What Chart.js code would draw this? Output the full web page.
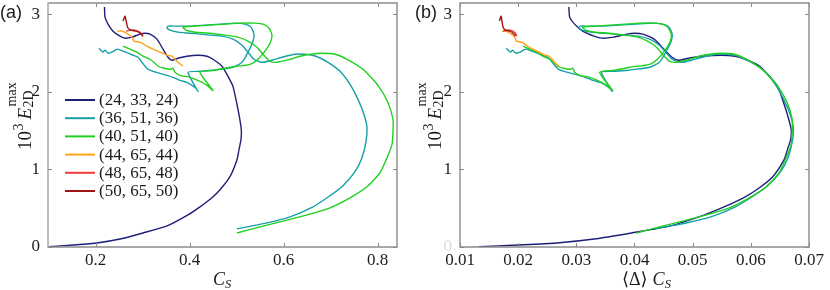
<!DOCTYPE html>
<html>
<head>
<meta charset="utf-8">
<script src="https://cdn.jsdelivr.net/npm/chart.js@4.4.1/dist/chart.umd.min.js"></script>
<style>
  html, body { margin: 0; padding: 0; background: #ffffff; }
  #wrap { position: relative; width: 830px; height: 290px; }
  canvas { position: absolute; top: 0; }
</style>
</head>
<body>
<div id="wrap">
  <canvas id="chartA" width="415" height="290" style="left:0px"></canvas>
  <canvas id="chartB" width="415" height="290" style="left:415px"></canvas>
</div>
<script>
// ---------------- DATA ----------------
const seriesLabels = ['(24, 33, 24)', '(36, 51, 36)', '(40, 51, 40)', '(44, 65, 44)', '(48, 65, 48)', '(50, 65, 50)'];
const seriesColors = ['#1f1f7a', '#14a0a6', '#1fd01f', '#ffa31a', '#f23b3b', '#a11414'];
// mean filter width <Delta> per grid (panel b abscissa = <Delta> * C_S)
const meanDelta = [0.1313, 0.0866, 0.0806, 0.0700, 0.0658, 0.0650];

// [C_S, 10^3 E_2D^max]
const grid24 = [[0.2187,3.092],[0.2198,2.962],[0.2262,2.872],[0.2368,2.781],[0.2517,2.717],[0.2623,2.691],[0.2772,2.704],[0.2943,2.743],[0.3049,2.755],[0.3155,2.743],[0.3304,2.678],[0.3432,2.549],[0.3538,2.445],[0.3623,2.406],[0.3751,2.432],[0.3943,2.458],[0.4177,2.471],[0.4368,2.458],[0.4496,2.419],[0.4687,2.329],[0.4815,2.199],[0.4921,2.070],[0.5028,1.772],[0.5091,1.552],[0.5100,1.475],[0.5091,1.384],[0.5049,1.255],[0.5006,1.125],[0.4857,0.906],[0.4645,0.737],[0.4474,0.634],[0.4219,0.517],[0.3964,0.414],[0.3517,0.272],[0.3006,0.181],[0.2517,0.103],[0.2028,0.052],[0.1517,0.026],[0.1006,0.004]];
const grid36 = [[0.2070,2.561],[0.2155,2.510],[0.2198,2.536],[0.2262,2.497],[0.2347,2.510],[0.2411,2.536],[0.2474,2.549],[0.2581,2.523],[0.2687,2.497],[0.2794,2.471],[0.2900,2.445],[0.2985,2.380],[0.3049,2.329],[0.3113,2.290],[0.3219,2.264],[0.3368,2.238],[0.3517,2.212],[0.3645,2.186],[0.3794,2.147],[0.3943,2.122],[0.4049,2.083],[0.4134,2.044],[0.4177,2.005],[0.3964,2.251],[0.4219,2.264],[0.4496,2.277],[0.4645,2.290],[0.4921,2.316],[0.5113,2.380],[0.5240,2.510],[0.5347,2.652],[0.5368,2.743],[0.5304,2.833],[0.5177,2.872],[0.4964,2.885],[0.4645,2.872],[0.4326,2.859],[0.4006,2.846],[0.3687,2.846],[0.3538,2.846],[0.3517,2.820],[0.3581,2.794],[0.3751,2.768],[0.4006,2.755],[0.4219,2.743],[0.4432,2.730],[0.4687,2.717],[0.4921,2.678],[0.5113,2.600],[0.5240,2.510],[0.5368,2.419],[0.5538,2.380],[0.5751,2.406],[0.5964,2.445],[0.6240,2.484],[0.6453,2.484],[0.6687,2.458],[0.6943,2.380],[0.7198,2.264],[0.7411,2.096],[0.7581,1.902],[0.7709,1.708],[0.7772,1.539],[0.7751,1.358],[0.7666,1.151],[0.7517,0.970],[0.7262,0.789],[0.6985,0.660],[0.6623,0.517],[0.6134,0.388],[0.5645,0.310],[0.5219,0.259],[0.5006,0.233]];
const grid40 = [[0.2581,2.587],[0.2730,2.549],[0.2879,2.510],[0.3006,2.458],[0.3155,2.419],[0.3262,2.367],[0.3326,2.329],[0.3453,2.303],[0.3581,2.290],[0.3645,2.303],[0.3687,2.251],[0.3794,2.212],[0.4006,2.186],[0.4219,2.135],[0.4368,2.083],[0.4496,2.018],[0.4219,2.251],[0.4538,2.277],[0.4857,2.316],[0.5283,2.354],[0.5453,2.419],[0.5602,2.523],[0.5709,2.626],[0.5751,2.730],[0.5687,2.820],[0.5560,2.872],[0.5389,2.885],[0.5070,2.885],[0.4751,2.872],[0.4432,2.859],[0.4113,2.846],[0.3857,2.833],[0.3921,2.794],[0.4113,2.768],[0.4432,2.755],[0.4751,2.730],[0.5028,2.704],[0.5240,2.652],[0.5432,2.574],[0.5560,2.484],[0.5709,2.393],[0.5857,2.380],[0.6134,2.419],[0.6347,2.458],[0.6560,2.484],[0.6815,2.497],[0.7091,2.484],[0.7347,2.419],[0.7687,2.290],[0.8006,2.083],[0.8219,1.863],[0.8326,1.643],[0.8326,1.488],[0.8304,1.320],[0.8198,1.151],[0.8049,0.957],[0.7772,0.776],[0.7411,0.634],[0.6985,0.505],[0.6496,0.414],[0.5921,0.323],[0.5496,0.259],[0.5006,0.181]];
const grid44 = [[0.2453,2.781],[0.2560,2.781],[0.2687,2.743],[0.2772,2.704],[0.2815,2.652],[0.2943,2.639],[0.3091,2.587],[0.3219,2.549],[0.3368,2.510],[0.3517,2.471],[0.3623,2.458],[0.3687,2.419],[0.3751,2.380],[0.3857,2.329]];
const grid48 = [[0.2645,2.781],[0.2751,2.794],[0.2836,2.794],[0.2900,2.781],[0.2964,2.755],[0.3006,2.717]];
const grid50 = [[0.2581,2.911],[0.2623,2.975],[0.2645,2.924],[0.2666,2.859],[0.2687,2.820],[0.2751,2.794],[0.2857,2.781],[0.2943,2.755],[0.3006,2.717]];
const allSeries = [grid24, grid36, grid40, grid44, grid48, grid50];

const yTickValues = [0, 1, 2, 3];
const yTickLabels = ['0', '1', '2', '3'];
const xTickValuesA = [0.2, 0.4, 0.6, 0.8];
const xTickLabelsA = ['0.2', '0.4', '0.6', '0.8'];
const xTickValuesB = [0.01, 0.02, 0.03, 0.04, 0.05, 0.06, 0.07];
const xTickLabelsB = ['0.01', '0.02', '0.03', '0.04', '0.05', '0.06', '0.07'];

// ---------------- STYLE ----------------
const TEXT = '#1c1c1c';
const SERIF = '"Liberation Serif", "DejaVu Serif", serif';

function drawYTitle(ctx, bx, by) {
  ctx.save();
  ctx.translate(bx, by);
  ctx.rotate(-Math.PI / 2);
  ctx.fillStyle = TEXT;
  ctx.textAlign = 'left';
  ctx.textBaseline = 'alphabetic';
  let p = 0;
  ctx.font = '19px ' + SERIF;
  ctx.fillText('10', p, 0); p += ctx.measureText('10').width;
  ctx.font = '14px ' + SERIF;
  ctx.fillText('3', p + 0.5, -8); p += ctx.measureText('3').width + 4.5;
  ctx.font = 'italic 19px ' + SERIF;
  ctx.fillText('E', p, 0); p += ctx.measureText('E').width + 1.5;
  ctx.font = '14px ' + SERIF;
  ctx.fillText('max', p, -15);
  ctx.fillText('2D', p - 1, 2);
  ctx.restore();
}

function drawCS(ctx, x, y) {
  ctx.save();
  ctx.fillStyle = TEXT;
  ctx.textAlign = 'left';
  ctx.textBaseline = 'alphabetic';
  ctx.font = 'italic 18px ' + SERIF;
  ctx.fillText('C', x, y);
  const w = ctx.measureText('C').width;
  ctx.font = 'italic 12.5px ' + SERIF;
  ctx.fillText('S', x + w, y + 3);
  ctx.restore();
}

function makeDecor(opts) {
  return {
    id: 'decor',
    afterDraw(chart) {
      const { ctx, chartArea: ca, scales } = chart;
      const xs = scales.x, ys = scales.y;
      ctx.save();
      // frame
      ctx.lineWidth = 1.4;
      ctx.strokeStyle = '#8c8c8c';
      ctx.beginPath();
      ctx.moveTo(ca.left, ca.top); ctx.lineTo(ca.right, ca.top);
      ctx.lineTo(ca.right, ca.bottom); ctx.lineTo(ca.left, ca.bottom);
      ctx.stroke();
      ctx.strokeStyle = opts.leftColor;
      ctx.lineWidth = opts.leftWidth;
      ctx.beginPath();
      ctx.moveTo(ca.left, ca.top - 0.7); ctx.lineTo(ca.left, ca.bottom + 0.7);
      ctx.stroke();
      // inward ticks on all four sides
      ctx.strokeStyle = '#8c8c8c';
      ctx.lineWidth = 1;
      ctx.beginPath();
      xs.ticks.forEach(t => {
        const px = Math.round(xs.getPixelForValue(t.value)) + 0.5;
        ctx.moveTo(px, ca.bottom); ctx.lineTo(px, ca.bottom - 4);
        ctx.moveTo(px, ca.top); ctx.lineTo(px, ca.top + 4);
      });
      ys.ticks.forEach(t => {
        const py = Math.round(ys.getPixelForValue(t.value)) + 0.5;
        ctx.moveTo(ca.left, py); ctx.lineTo(ca.left + 4, py);
        ctx.moveTo(ca.right, py); ctx.lineTo(ca.right - 4, py);
      });
      ctx.stroke();
      // panel label
      ctx.fillStyle = TEXT;
      ctx.font = '18px "Liberation Sans", Arial, sans-serif';
      ctx.textAlign = 'left';
      ctx.textBaseline = 'alphabetic';
      ctx.fillText(opts.panel, 0, 18);
      // y title
      drawYTitle(ctx, opts.yTitleX, 150);
      // x title
      if (opts.deltaTitle) {
        ctx.font = '18px ' + SERIF;
        ctx.fillText('\u27E8\u0394\u27E9', opts.xTitleX, 285);
        const w = ctx.measureText('\u27E8\u0394\u27E9').width;
        drawCS(ctx, opts.xTitleX + w + 5, 285);
      } else {
        drawCS(ctx, opts.xTitleX, 285);
      }
      // legend
      if (opts.legend) {
        const rows = [100, 118.2, 136.4, 154.6, 172.8, 191];
        chart.data.datasets.forEach((ds, i) => {
          const yy = rows[i];
          ctx.strokeStyle = ds.borderColor;
          ctx.lineWidth = 2;
          ctx.beginPath();
          ctx.moveTo(65, yy); ctx.lineTo(95, yy);
          ctx.stroke();
          ctx.fillStyle = TEXT;
          ctx.font = '17px ' + SERIF;
          ctx.textBaseline = 'middle';
          ctx.fillText(ds.label, 99, yy + 0.5);
        });
      }
      ctx.restore();
    }
  };
}

function makeChart(canvasId, datasets, xMin, xMax, xTicks, xLabels, yAxisWidth, rightPad, decorOpts, ghostZero) {
  return new Chart(document.getElementById(canvasId), {
    type: 'scatter',
    data: { datasets },
    options: {
      responsive: false,
      animation: false,
      devicePixelRatio: 1,
      layout: { padding: { top: 3, right: rightPad, bottom: 0, left: 0 } },
      plugins: { legend: { display: false }, tooltip: { enabled: false } },
      elements: { point: { radius: 0, hoverRadius: 0 } },
      scales: {
        x: {
          type: 'linear', min: xMin, max: xMax,
          grid: { display: false, drawTicks: false, tickLength: 0 },
          border: { display: false },
          afterBuildTicks: s => { s.ticks = xTicks.map(v => ({ value: v })); },
          afterFit: s => { s.height = 43; s.paddingLeft = 0; s.paddingRight = 0; },
          ticks: {
            padding: 3, color: TEXT, maxRotation: 0, autoSkip: false,
            font: { family: 'Liberation Serif', size: 17 },
            callback: (v, i) => xLabels[i]
          }
        },
        y: {
          type: 'linear', min: 0, max: 3.144,
          grid: { display: false, drawTicks: false, tickLength: 0 },
          border: { display: false },
          afterBuildTicks: s => { s.ticks = yTickValues.map(v => ({ value: v })); },
          afterFit: s => { s.width = yAxisWidth; s.paddingTop = 0; s.paddingBottom = 0; },
          ticks: {
            padding: 8, autoSkip: false,
            color: c => (ghostZero && c.tick && c.tick.value === 0) ? '#dcdcdc' : TEXT,
            font: { family: 'Liberation Serif', size: 17 },
            callback: (v, i) => yTickLabels[i]
          }
        }
      }
    },
    plugins: [makeDecor(decorOpts)]
  });
}

const n = allSeries.length;
const datasetsA = allSeries.map((pts, i) => ({
  label: seriesLabels[i],
  data: pts.map(([cs, e]) => ({ x: cs, y: e })),
  showLine: true, borderColor: seriesColors[i], backgroundColor: seriesColors[i],
  borderWidth: 1.4, tension: 0.2, fill: false, order: n - i
}));
const datasetsB = allSeries.map((pts, i) => ({
  label: seriesLabels[i],
  data: pts.map(([cs, e]) => ({ x: cs * meanDelta[i], y: e })),
  showLine: true, borderColor: seriesColors[i], backgroundColor: seriesColors[i],
  borderWidth: 1.4, tension: 0.2, fill: false, order: n - i
}));

makeChart('chartA', datasetsA, 0.0985, 0.8411, xTickValuesA, xTickLabelsA, 48, 18,
  { panel: '(a)', yTitleX: 31, xTitleX: 213, legend: true, leftColor: '#bdbdbd', leftWidth: 2 }, false);
makeChart('chartB', datasetsB, 0.01, 0.07, xTickValuesB, xTickLabelsB, 45, 21,
  { panel: '(b)', yTitleX: 26, xTitleX: 207, deltaTitle: true, legend: false, leftColor: '#8c8c8c', leftWidth: 1.4 }, true);
</script>
</body>
</html>
